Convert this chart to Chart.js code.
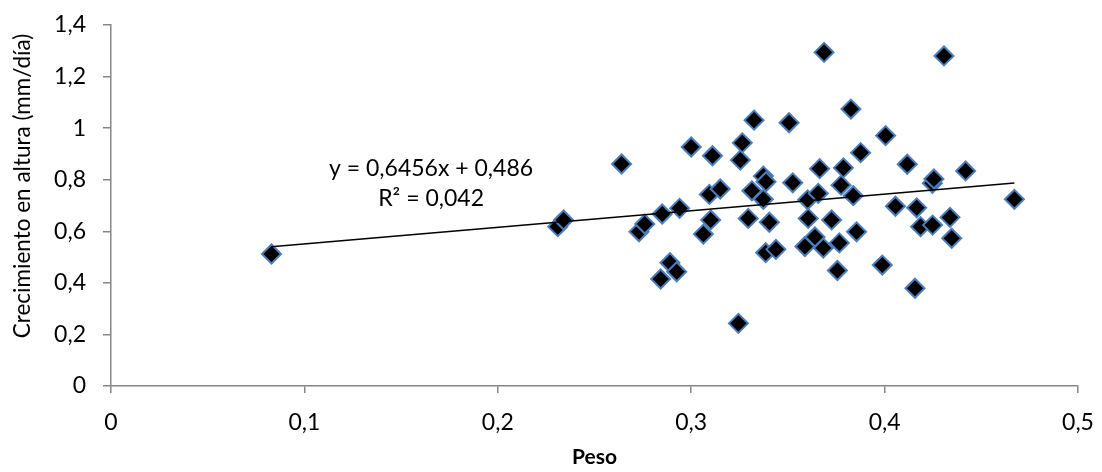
<!DOCTYPE html>
<html>
<head>
<meta charset="utf-8">
<script src="https://cdn.jsdelivr.net/npm/chart.js"></script>
<style>
  html, body { margin: 0; padding: 0; background: #fff; }
  #wrap { width: 1102px; height: 472px; }
</style>
</head>
<body>
<div id="wrap"><canvas id="chart" width="1102" height="472"></canvas></div>
<script>
// valores
const peso = [
  0.083, 0.231, 0.234, 0.264, 0.273, 0.276, 0.285, 0.289, 0.2925, 0.2842,
  0.294, 0.300, 0.3063, 0.3094, 0.3101, 0.311, 0.315, 0.3244, 0.3254, 0.3264,
  0.3295, 0.3314, 0.3325, 0.3373, 0.3387, 0.3373, 0.3404, 0.3385, 0.3438, 0.3506,
  0.3525, 0.3588, 0.3602, 0.3605, 0.364, 0.3657, 0.3664, 0.3683, 0.3687, 0.3726,
  0.3756, 0.3766, 0.3775, 0.3787, 0.3826, 0.3838, 0.3855, 0.3876, 0.3988, 0.4005,
  0.4056, 0.4117, 0.4157, 0.4166, 0.4186, 0.4247, 0.4255, 0.4248, 0.4307, 0.4338,
  0.4347, 0.4419, 0.4671
];
const crecimiento = [
  0.512, 0.618, 0.644, 0.861, 0.598, 0.628, 0.667, 0.478, 0.443, 0.415,
  0.689, 0.927, 0.589, 0.743, 0.644, 0.893, 0.764, 0.243, 0.876, 0.943,
  0.650, 0.757, 1.031, 0.814, 0.792, 0.724, 0.635, 0.517, 0.530, 1.021,
  0.788, 0.541, 0.722, 0.650, 0.578, 0.747, 0.843, 0.535, 1.294, 0.644,
  0.448, 0.555, 0.779, 0.846, 1.074, 0.738, 0.598, 0.905, 0.469, 0.971,
  0.697, 0.860, 0.379, 0.691, 0.618, 0.786, 0.803, 0.624, 1.280, 0.654,
  0.573, 0.834, 0.724
];
const xTickLabels = ['0', '0,1', '0,2', '0,3', '0,4', '0,5'];
const yTickLabels = ['0', '0,2', '0,4', '0,6', '0,8', '1', '1,2', '1,4'];
const pendiente = 0.6456;
const intercepto = 0.486;
const ecuacion = ['y = 0,6456x + 0,486', 'R² = 0,042'];
const tituloX = 'Peso';
const tituloY = 'Crecimiento en altura (mm/día)';

const FONT = 'Lato, "Open Sans", sans-serif';
const GRIS = '#868686';

const puntos = peso.map((x, i) => ({ x: x, y: crecimiento[i] }));
const xMin = Math.min(...peso);
const xMax = Math.max(...peso);
const tendencia = [
  { x: xMin, y: pendiente * xMin + intercepto },
  { x: xMax, y: pendiente * xMax + intercepto }
];

// etiqueta de la ecuacion y titulo del eje y
const textos = {
  id: 'textos',
  afterDraw(chart) {
    const ctx = chart.ctx;
    const xs = chart.scales.x;
    const ys = chart.scales.y;
    ctx.save();
    ctx.fillStyle = '#000';
    ctx.textAlign = 'center';
    ctx.textBaseline = 'middle';
    ctx.font = '23px ' + FONT;
    const cx = xs.getPixelForValue(0.1655);
    ctx.fillText(ecuacion[0], cx, ys.getPixelForValue(0.845));
    ctx.fillText(ecuacion[1], cx, ys.getPixelForValue(0.725));

    ctx.font = '22.5px ' + FONT;
    ctx.translate(23, 186);
    ctx.rotate(-Math.PI / 2);
    ctx.fillText(tituloY, 0, 0);
    ctx.restore();
  }
};

new Chart(document.getElementById('chart'), {
  type: 'scatter',
  data: {
    datasets: [
      {
        type: 'line',
        data: tendencia,
        borderColor: '#000',
        borderWidth: 1.5,
        pointRadius: 0,
        fill: false
      },
      {
        data: puntos,
        pointStyle: 'rectRot',
        pointRadius: 9.5,
        backgroundColor: '#000',
        borderColor: '#4a7ebb',
        borderWidth: 2
      }
    ]
  },
  options: {
    responsive: false,
    animation: false,
    layout: { padding: { top: 25, right: 24, bottom: 0, left: 0 } },
    plugins: { legend: { display: false }, tooltip: { enabled: false } },
    scales: {
      x: {
        type: 'linear',
        min: 0,
        max: 0.5,
        afterFit: (s) => { s.height = 86; s.paddingLeft = 0; s.paddingRight = 0; },
        grid: { drawOnChartArea: false, color: GRIS, tickLength: 7, lineWidth: 1.5 },
        border: { color: GRIS, width: 1.5 },
        ticks: {
          stepSize: 0.1,
          padding: 16,
          color: '#000',
          font: { family: FONT, size: 23 },
          callback: (v, i) => xTickLabels[i]
        },
        title: {
          display: true,
          text: tituloX,
          color: '#000',
          font: { family: FONT, size: 21, weight: 'bold' },
          padding: { top: 0, bottom: 2 }
        }
      },
      y: {
        min: 0,
        max: 1.4,
        afterFit: (s) => { s.width = 111; s.paddingTop = 0; s.paddingBottom = 0; },
        grid: { drawOnChartArea: false, color: GRIS, tickLength: 8, lineWidth: 1.5 },
        border: { color: GRIS, width: 1.5 },
        ticks: {
          stepSize: 0.2,
          padding: 17,
          color: '#000',
          font: { family: FONT, size: 23 },
          callback: (v, i) => yTickLabels[i]
        }
      }
    }
  },
  plugins: [textos]
});
</script>
</body>
</html>
